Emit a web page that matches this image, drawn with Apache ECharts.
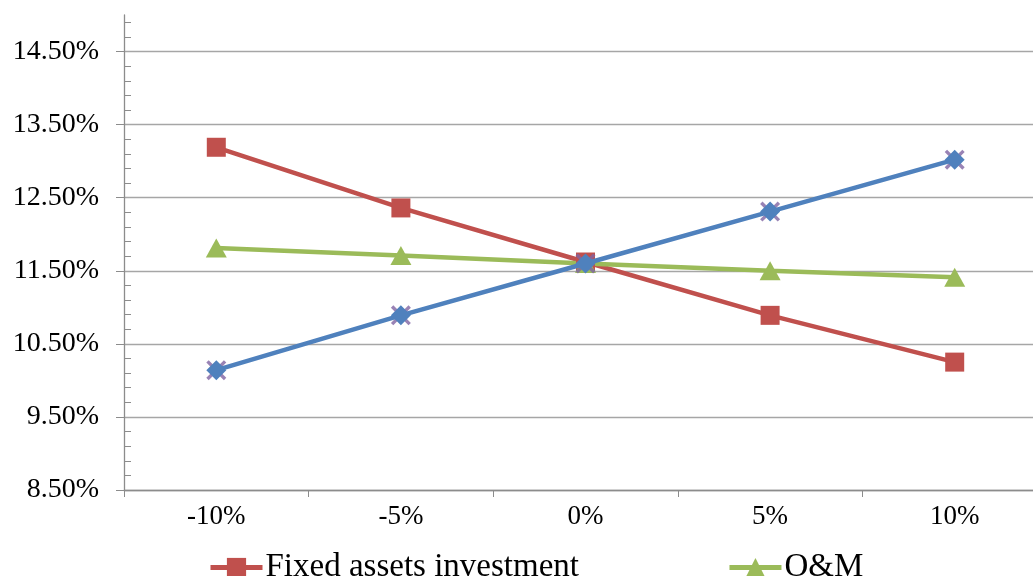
<!DOCTYPE html>
<html>
<head>
<meta charset="utf-8">
<script src="https://cdn.jsdelivr.net/npm/echarts@6/dist/echarts.min.js"></script>
<style>
html,body{margin:0;padding:0;background:#fff;}
#chart{width:1033px;height:576px;}
</style>
</head>
<body>
<div id="chart"></div>
<script>
const categories = ['-10%', '-5%', '0%', '5%', '10%'];
const fixedAssets = [13.19, 12.36, 11.62, 10.89, 10.25];
const om = [11.81, 11.71, 11.60, 11.50, 11.41];
const electricity = [10.14, 10.89, 11.60, 12.31, 13.02];
const yTicks = [8.5, 9.5, 10.5, 11.5, 12.5, 13.5, 14.5];
const yMin = 8.5, yMax = 15, yMinorStep = 0.2;

const minorTicks = [];
for (let v = yMin + yMinorStep; v < yMax - 1e-9; v += yMinorStep) {
  const r = Math.round(v * 10) / 10;
  if (!yTicks.some(t => Math.abs(t - r) < 1e-6)) minorTicks.push(r);
}

const font = 'Liberation Serif';
const axisGray = '#8c8c8c';
const gridGray = '#a6a6a6';

const chart = echarts.init(document.getElementById('chart'));
chart.setOption({
  animation: false,
  backgroundColor: '#fff',
  grid: { left: 124, right: -14, top: 15, bottom: 86, containLabel: false, outerBoundsMode: 'none' },
  legend: {
    data: ['Fixed assets investment', 'O&M'],
    left: 203, top: 546,
    itemWidth: 52, itemHeight: 24, itemGap: 148,
    lineStyle: { width: 5 },
    textStyle: { fontFamily: font, fontSize: 33, color: '#000', padding: [0, 0, 0, -2] }
  },
  xAxis: {
    type: 'category',
    data: categories,
    boundaryGap: true,
    axisLine: { lineStyle: { color: axisGray, width: 1.3 } },
    axisTick: { show: true, length: 7, lineStyle: { color: axisGray } },
    axisLabel: { fontFamily: font, fontSize: 27, color: '#000', margin: 13 },
    splitLine: { show: false }
  },
  yAxis: [{
    type: 'value',
    position: 'left',
    min: yMin, max: yMax,
    axisLine: { show: true, lineStyle: { color: axisGray, width: 1.3 } },
    axisTick: { show: true, length: 8, customValues: yTicks, lineStyle: { color: axisGray } },
    axisLabel: {
      customValues: yTicks,
      fontFamily: font, fontSize: 28, color: '#000', margin: 25,
      formatter: v => v.toFixed(2) + '%'
    },
    splitLine: { show: true, lineStyle: { color: gridGray, width: 1.3 } }
  }, {
    type: 'value',
    position: 'left',
    min: yMin, max: yMax,
    axisLine: { show: false },
    axisTick: { show: true, inside: true, length: 7, customValues: minorTicks, lineStyle: { color: axisGray } },
    axisLabel: { show: false },
    splitLine: { show: false }
  }],
  series: [{
    name: 'Fixed assets investment',
    type: 'line',
    data: fixedAssets,
    symbol: 'rect', symbolSize: 19,
    itemStyle: { color: '#C0504D' },
    lineStyle: { color: '#C0504D', width: 4.5 },
    z: 2
  }, {
    name: 'O&M',
    type: 'line',
    data: om,
    symbol: 'triangle', symbolSize: [21, 19],
    itemStyle: { color: '#9BBB59' },
    lineStyle: { color: '#9BBB59', width: 4.5 },
    z: 2
  }, {
    name: 'Electricity price x',
    type: 'scatter',
    data: electricity,
    symbol: 'path://M0,1.2 L1.2,0 L10,8.8 L8.8,10 Z M8.8,0 L10,1.2 L1.2,10 L0,8.8 Z',
    symbolSize: 20,
    itemStyle: { color: '#8064A2' },
    z: 2
  }, {
    name: 'Electricity price',
    type: 'line',
    data: electricity,
    symbol: 'diamond', symbolSize: 20,
    itemStyle: { color: '#4F81BD' },
    lineStyle: { color: '#4F81BD', width: 4.5 },
    z: 3
  }]
});
</script>
</body>
</html>
